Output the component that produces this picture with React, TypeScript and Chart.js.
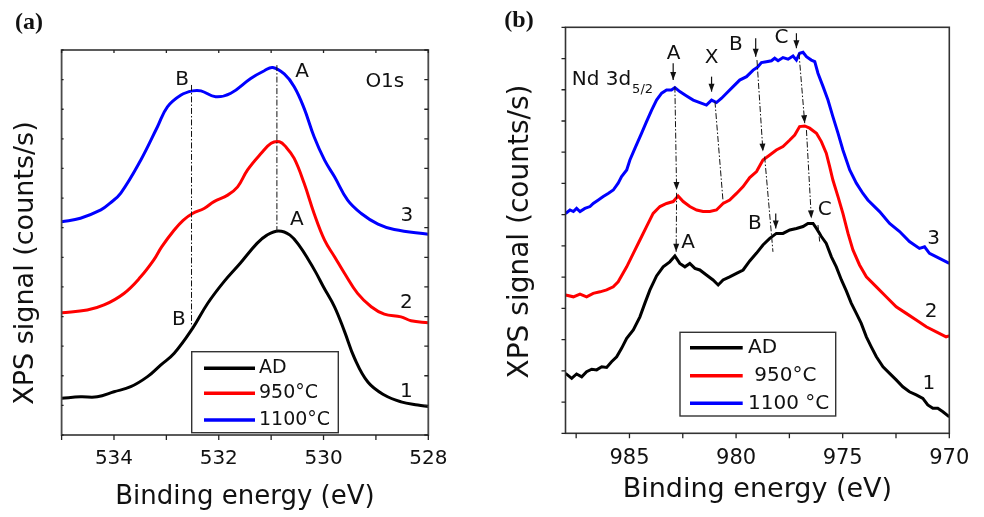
import React, { useEffect, useRef } from "react";
import { Chart, registerables } from "chart.js";
Chart.register(...registerables);

const FONT = "'DejaVu Sans', 'Liberation Sans', sans-serif";
const SERIF = "'Liberation Serif', 'DejaVu Serif', serif";

// ---------- Panel (a): O1s ----------
const aSeriesLabels = ["AD", "950°C", "1100°C"];
const aXTickLabels = [534, 532, 530, 528];

const aAD_E = [535, 534.64, 534.32, 534.0, 533.68, 533.36, 533.11, 532.85, 532.5, 532.21, 531.9, 531.59, 531.27, 531.08, 530.86, 530.64, 530.45, 530.3, 530.15, 530.0, 529.79, 529.6, 529.41, 529.15, 528.84, 528.52, 528.2, 528.0];
const aAD_I = [1.24, 1.29, 1.29, 1.46, 1.63, 1.97, 2.36, 2.76, 3.6, 4.45, 5.18, 5.8, 6.47, 6.75, 6.89, 6.75, 6.36, 5.95, 5.5, 5.0, 4.33, 3.5, 2.6, 1.78, 1.35, 1.12, 1.01, 0.96];

const a950_E = [535, 534.51, 534.19, 533.81, 533.49, 533.24, 533.09, 532.85, 532.68, 532.5, 532.28, 532.09, 531.83, 531.64, 531.45, 531.19, 531.0, 530.84, 530.72, 530.56, 530.37, 530.18, 529.98, 529.79, 529.6, 529.35, 529.09, 528.84, 528.52, 528.33, 528.0];
const a950_I = [4.13, 4.22, 4.39, 4.78, 5.34, 5.91, 6.35, 6.92, 7.25, 7.48, 7.65, 7.88, 8.1, 8.38, 8.95, 9.51, 9.85, 9.9, 9.73, 9.34, 8.5, 7.48, 6.58, 6.02, 5.46, 4.78, 4.33, 4.08, 3.99, 3.86, 3.79];

const a1100_E = [535, 534.64, 534.25, 534.08, 533.87, 533.49, 533.17, 532.98, 532.72, 532.5, 532.34, 532.06, 531.77, 531.39, 531.13, 530.97, 530.75, 530.56, 530.37, 530.18, 529.98, 529.79, 529.54, 529.28, 528.96, 528.65, 528.0];
const a1100_I = [7.2, 7.32, 7.6, 7.82, 8.17, 9.28, 10.41, 11.08, 11.48, 11.62, 11.62, 11.42, 11.54, 12.04, 12.3, 12.41, 12.19, 11.76, 11.03, 10.07, 9.28, 8.72, 7.93, 7.48, 7.12, 6.94, 6.78];

// ---------- Panel (b): Nd 3d5/2 ----------
const bSeriesLabels = ["AD", " 950°C", "1100 °C"];
const bXTickLabels = [985, 980, 975, 970];

const bAD_E = [988.0, 987.71, 987.48, 987.24, 987.01, 986.77, 986.54, 986.3, 986.07, 985.84, 985.6, 985.37, 985.13, 984.82, 984.51, 984.28, 984.04, 983.73, 983.42, 983.11, 982.87, 982.64, 982.4, 982.17, 981.93, 981.7, 981.39, 981.08, 980.84, 980.61, 980.3, 979.98, 979.67, 979.36, 979.04, 978.74, 978.42, 978.11, 977.8, 977.48, 977.17, 976.86, 976.63, 976.39, 976.23, 976.0, 975.77, 975.53, 975.3, 975.06, 974.83, 974.6, 974.36, 974.13, 973.89, 973.66, 973.42, 973.11, 972.8, 972.49, 972.18, 971.87, 971.55, 971.24, 971.01, 970.77, 970.54, 970.3, 970.0];
const bAD_I = [1.92, 1.76, 1.9, 1.81, 1.97, 2.05, 2.03, 2.13, 2.11, 2.29, 2.45, 2.72, 3.04, 3.31, 3.73, 4.16, 4.59, 5.04, 5.33, 5.49, 5.68, 5.44, 5.33, 5.44, 5.28, 5.23, 5.07, 4.91, 4.75, 4.91, 5.01, 5.12, 5.23, 5.52, 5.77, 6.03, 6.24, 6.4, 6.4, 6.51, 6.56, 6.62, 6.72, 6.72, 6.56, 6.3, 6.08, 5.65, 5.33, 4.91, 4.56, 4.17, 3.84, 3.52, 3.09, 2.77, 2.45, 2.13, 1.92, 1.71, 1.49, 1.33, 1.23, 1.12, 0.91, 0.8, 0.8, 0.69, 0.53];

const b950_E = [988.0, 987.63, 987.32, 987.01, 986.7, 986.38, 986.07, 985.76, 985.53, 985.13, 984.82, 984.51, 984.2, 983.89, 983.57, 983.26, 982.95, 982.72, 982.48, 982.17, 981.85, 981.55, 981.23, 980.92, 980.61, 980.3, 979.98, 979.67, 979.36, 979.04, 978.74, 978.42, 978.11, 977.8, 977.48, 977.25, 977.02, 976.78, 976.55, 976.23, 976.0, 975.77, 975.61, 975.46, 975.22, 974.99, 974.75, 974.52, 974.21, 973.89, 973.42, 972.96, 972.49, 972.02, 971.55, 971.08, 970.61, 970.15, 970.0];
const b950_I = [4.43, 4.37, 4.46, 4.37, 4.48, 4.53, 4.59, 4.69, 4.85, 5.33, 5.76, 6.19, 6.62, 7.04, 7.26, 7.36, 7.42, 7.6, 7.42, 7.26, 7.15, 7.1, 7.1, 7.15, 7.36, 7.47, 7.68, 7.9, 8.19, 8.38, 8.75, 8.91, 9.07, 9.18, 9.39, 9.55, 9.82, 9.84, 9.77, 9.61, 9.34, 8.97, 8.54, 8.11, 7.58, 7.04, 6.4, 5.87, 5.39, 5.01, 4.69, 4.37, 4.05, 3.84, 3.63, 3.41, 3.25, 3.09, 3.12];

const b1100_E = [988.0, 987.79, 987.63, 987.48, 987.32, 987.09, 986.85, 986.7, 986.46, 986.23, 986.0, 985.76, 985.53, 985.37, 985.13, 984.98, 984.74, 984.43, 984.2, 983.96, 983.73, 983.49, 983.26, 983.03, 982.87, 982.64, 982.32, 982.01, 981.7, 981.39, 981.15, 980.92, 980.68, 980.45, 980.14, 979.83, 979.51, 979.2, 979.0, 978.81, 978.58, 978.34, 978.19, 978.03, 977.8, 977.56, 977.33, 977.17, 977.02, 976.86, 976.7, 976.47, 976.31, 976.16, 975.92, 975.69, 975.46, 975.22, 974.99, 974.67, 974.36, 974.05, 973.82, 973.27, 972.8, 972.33, 971.87, 971.4, 971.16, 970.93, 970.46, 970.0];
const b1100_I = [7.04, 7.15, 7.1, 7.2, 7.1, 7.2, 7.26, 7.36, 7.47, 7.58, 7.68, 7.79, 8.01, 8.22, 8.43, 8.75, 9.13, 9.61, 9.98, 10.35, 10.67, 10.89, 10.99, 10.99, 11.07, 10.94, 10.8, 10.67, 10.59, 10.51, 10.67, 10.59, 10.73, 10.89, 11.1, 11.31, 11.42, 11.63, 11.72, 11.87, 11.9, 11.93, 12.01, 11.93, 12.03, 11.98, 12.08, 11.95, 12.17, 12.2, 12.06, 11.95, 11.9, 11.53, 11.1, 10.67, 10.14, 9.61, 9.07, 8.43, 8.01, 7.68, 7.47, 7.1, 6.72, 6.46, 6.14, 5.92, 5.97, 5.76, 5.6, 5.44];

const COLORS = ["#000000", "#ff0000", "#0000ff"];

const pts = (E: number[], I: number[]) => E.map((e, i) => ({ x: e, y: I[i] }));

type Ann =
  | { t: "text"; x: number; y: number; s: string; size?: number; align?: CanvasTextAlign }
  | { t: "sub"; x: number; y: number; s: string; sub: string }
  | { t: "line"; x1: number; y1: number; x2: number; y2: number; head?: boolean; dash?: boolean };

interface Spec {
  xMin: number; xMax: number; xStep: number; yMax: number;
  labels: number[];
  tick: { left: number; right: number; top: number; bottom: number };
  frameColor: string; frameWidth: number;
  tickFont: number; tickLabelY: number;
  xTitle: string; xTitleSize: number; xTitleY: number;
  yTitle: string; yTitleSize: number; yTitleX: number; yTitleY: number;
  panel: string; panelX: number; panelY: number;
  legend: { x: number; y: number; w: number; h: number; l1: number; l2: number; rows: number[]; tx: number; size: number };
  anns: Ann[];
}

const specA: Spec = {
  xMin: 528, xMax: 535, xStep: 1, yMax: 13,
  labels: aXTickLabels,
  tick: { left: 2, right: 4, top: 3, bottom: -5 },
  frameColor: "#4a4a4a", frameWidth: 1.8,
  tickFont: 20, tickLabelY: 459,
  xTitle: "Binding energy (eV)", xTitleSize: 26, xTitleY: 497,
  yTitle: "XPS signal (counts/s)", yTitleSize: 27, yTitleX: 26, yTitleY: 263,
  panel: "(a)", panelX: 29, panelY: 23,
  legend: { x: 191.7, y: 351.7, w: 146.6, h: 81, l1: 204, l2: 255, rows: [368.3, 393.3, 420], tx: 259, size: 19 },
  anns: [
    { t: "line", x1: 532.52, y1: 11.82, x2: 532.52, y2: 3.66, dash: true },
    { t: "line", x1: 530.89, y1: 12.49, x2: 530.89, y2: 6.86, dash: true },
    { t: "text", x: 532.7, y: 11.99, s: "B" },
    { t: "text", x: 530.41, y: 12.26, s: "A" },
    { t: "text", x: 528.83, y: 11.92, s: "O1s" },
    { t: "text", x: 530.51, y: 7.26, s: "A" },
    { t: "text", x: 532.76, y: 3.88, s: "B" },
    { t: "text", x: 528.41, y: 7.39, s: "3" },
    { t: "text", x: 528.42, y: 4.46, s: "2" },
    { t: "text", x: 528.42, y: 1.45, s: "1" },
  ],
};

const specB: Spec = {
  xMin: 970, xMax: 988, xStep: 2.5, yMax: 13,
  labels: bXTickLabels,
  tick: { left: -4, right: 0, top: 0, bottom: -5 },
  frameColor: "#333333", frameWidth: 1.6,
  tickFont: 21, tickLabelY: 459,
  xTitle: "Binding energy (eV)", xTitleSize: 27, xTitleY: 490,
  yTitle: "XPS signal (counts/s)", yTitleSize: 28, yTitleX: 29, yTitleY: 231.5,
  panel: "(b)", panelX: 27, panelY: 21,
  legend: { x: 188, y: 332.3, w: 155.7, h: 83.7, l1: 198, l2: 250.7, rows: [347.7, 375.7, 403.3], tx: 256, size: 20 },
  anns: [
    { t: "sub", x: 987.71, y: 11.15, s: "Nd 3d", sub: "5/2" },
    { t: "text", x: 982.93, y: 12.15, s: "A" },
    { t: "text", x: 981.15, y: 12.01, s: "X" },
    { t: "text", x: 980.01, y: 12.43, s: "B" },
    { t: "text", x: 977.87, y: 12.65, s: "C" },
    { t: "text", x: 982.25, y: 6.1, s: "A" },
    { t: "text", x: 979.12, y: 6.7, s: "B" },
    { t: "text", x: 975.84, y: 7.15, s: "C" },
    { t: "text", x: 970.73, y: 6.24, s: "3" },
    { t: "text", x: 970.85, y: 3.89, s: "2" },
    { t: "text", x: 970.96, y: 1.58, s: "1" },
    { t: "line", x1: 982.95, y1: 11.85, x2: 982.95, y2: 11.31, head: true },
    { t: "line", x1: 982.87, y1: 11.1, x2: 982.79, y2: 7.79, head: true, dash: true },
    { t: "line", x1: 982.79, y1: 7.7, x2: 982.81, y2: 5.81, head: true, dash: true },
    { t: "line", x1: 981.15, y1: 11.42, x2: 981.15, y2: 10.94, head: true },
    { t: "line", x1: 980.99, y1: 10.62, x2: 980.61, y2: 7.42, dash: true },
    { t: "line", x1: 979.08, y1: 12.65, x2: 979.08, y2: 12.06, head: true },
    { t: "line", x1: 979.02, y1: 11.95, x2: 978.74, y2: 9.02, head: true, dash: true },
    { t: "line", x1: 978.66, y1: 8.86, x2: 978.27, y2: 5.81, dash: true },
    { t: "line", x1: 978.14, y1: 7.04, x2: 978.14, y2: 6.56, head: true },
    { t: "line", x1: 977.17, y1: 12.81, x2: 977.17, y2: 12.33, head: true },
    { t: "line", x1: 977.05, y1: 12.17, x2: 976.78, y2: 9.93, head: true, dash: true },
    { t: "line", x1: 976.7, y1: 9.71, x2: 976.47, y2: 6.88, head: true, dash: true },
    { t: "line", x1: 976.16, y1: 6.67, x2: 976.08, y2: 6.14, dash: true },
  ],
};

function decor(spec: Spec) {
  return {
    id: "decor",
    afterDraw(chart: any) {
      const { ctx, chartArea: ca, scales } = chart;
      const X = (v: number) => scales.x.getPixelForValue(v);
      const Y = (v: number) => scales.y.getPixelForValue(v);
      ctx.save();
      // frame
      ctx.strokeStyle = spec.frameColor;
      ctx.lineWidth = spec.frameWidth;
      ctx.strokeRect(ca.left, ca.top, ca.right - ca.left, ca.bottom - ca.top);
      // ticks
      ctx.strokeStyle = "#222";
      ctx.lineWidth = 1.3;
      ctx.beginPath();
      for (let v = 0; v <= spec.yMax + 1e-6; v += 1) {
        const py = Y(v);
        if (spec.tick.left) { ctx.moveTo(ca.left, py); ctx.lineTo(ca.left + spec.tick.left, py); }
        if (spec.tick.right) { ctx.moveTo(ca.right, py); ctx.lineTo(ca.right - spec.tick.right, py); }
      }
      for (let v = spec.xMin; v <= spec.xMax + 1e-6; v += spec.xStep) {
        const px = X(v);
        if (spec.tick.bottom) { ctx.moveTo(px, ca.bottom); ctx.lineTo(px, ca.bottom - spec.tick.bottom); }
        if (spec.tick.top) { ctx.moveTo(px, ca.top); ctx.lineTo(px, ca.top + spec.tick.top); }
      }
      ctx.stroke();
      // tick labels
      ctx.fillStyle = "#111";
      ctx.font = `${spec.tickFont}px ${FONT}`;
      ctx.textAlign = "center";
      ctx.textBaseline = "middle";
      spec.labels.forEach((v) => ctx.fillText(String(v), X(v), spec.tickLabelY));
      // axis titles
      ctx.font = `${spec.xTitleSize}px ${FONT}`;
      ctx.fillText(spec.xTitle, (ca.left + ca.right) / 2, spec.xTitleY);
      ctx.save();
      ctx.translate(spec.yTitleX, spec.yTitleY);
      ctx.rotate(-Math.PI / 2);
      ctx.font = `${spec.yTitleSize}px ${FONT}`;
      ctx.fillText(spec.yTitle, 0, 0);
      ctx.restore();
      // panel label
      ctx.font = `bold 24px ${SERIF}`;
      ctx.fillText(spec.panel, spec.panelX, spec.panelY);
      // annotations
      spec.anns.forEach((a) => {
        if (a.t === "text") {
          ctx.font = `${a.size || 20}px ${FONT}`;
          ctx.textAlign = a.align || "center";
          ctx.textBaseline = "middle";
          ctx.fillText(a.s, X(a.x), Y(a.y));
        } else if (a.t === "sub") {
          ctx.font = `20px ${FONT}`;
          ctx.textAlign = "left";
          ctx.textBaseline = "alphabetic";
          const x0 = X(a.x), y0 = Y(a.y);
          ctx.fillText(a.s, x0, y0);
          const w = ctx.measureText(a.s).width;
          ctx.font = `13px ${FONT}`;
          ctx.fillText(a.sub, x0 + w + 1, y0 + 8);
        } else {
          const x1 = X(a.x1), y1 = Y(a.y1), x2 = X(a.x2), y2 = Y(a.y2);
          ctx.strokeStyle = "#111";
          ctx.lineWidth = a.dash ? 1 : 1.2;
          ctx.setLineDash(a.dash ? [6, 2, 1.5, 2] : []);
          ctx.beginPath();
          ctx.moveTo(x1, y1);
          ctx.lineTo(x2, y2);
          ctx.stroke();
          ctx.setLineDash([]);
          if (a.head) {
            const ang = Math.atan2(y2 - y1, x2 - x1);
            const L = 8, H = 3;
            ctx.fillStyle = "#111";
            ctx.beginPath();
            ctx.moveTo(x2, y2);
            ctx.lineTo(x2 - L * Math.cos(ang) + H * Math.sin(ang), y2 - L * Math.sin(ang) - H * Math.cos(ang));
            ctx.lineTo(x2 - L * Math.cos(ang) - H * Math.sin(ang), y2 - L * Math.sin(ang) + H * Math.cos(ang));
            ctx.closePath();
            ctx.fill();
          }
        }
      });
      // legend
      const lg = spec.legend;
      ctx.fillStyle = "#fff";
      ctx.fillRect(lg.x, lg.y, lg.w, lg.h);
      ctx.strokeStyle = "#333";
      ctx.lineWidth = 1.4;
      ctx.strokeRect(lg.x, lg.y, lg.w, lg.h);
      chart.data.datasets.forEach((ds: any, i: number) => {
        const ry = lg.rows[i];
        ctx.strokeStyle = ds.borderColor;
        ctx.lineWidth = 3.5;
        ctx.beginPath();
        ctx.moveTo(lg.l1, ry);
        ctx.lineTo(lg.l2, ry);
        ctx.stroke();
        ctx.fillStyle = "#111";
        ctx.font = `${lg.size}px ${FONT}`;
        ctx.textAlign = "left";
        ctx.textBaseline = "middle";
        ctx.fillText(ds.label, lg.tx, ry);
      });
      ctx.restore();
    },
  };
}

function makeChart(canvas: HTMLCanvasElement, spec: Spec, series: { label: string; data: any[]; color: string }[], padding: any, tension: number) {
  return new Chart(canvas, {
    type: "line",
    data: {
      datasets: series.map((s) => ({
        label: s.label,
        data: s.data,
        borderColor: s.color,
        backgroundColor: s.color,
        borderWidth: 3,
        pointRadius: 0,
        tension,
        fill: false,
      })),
    },
    options: {
      responsive: false,
      animation: false,
      devicePixelRatio: 1,
      layout: { padding },
      scales: {
        x: { type: "linear", min: spec.xMin, max: spec.xMax, reverse: true, display: false },
        y: { type: "linear", min: 0, max: spec.yMax, display: false },
      },
      plugins: { legend: { display: false }, tooltip: { enabled: false } },
    },
    plugins: [decor(spec)],
  } as any);
}

export default function App() {
  const refA = useRef<HTMLCanvasElement>(null);
  const refB = useRef<HTMLCanvasElement>(null);
  useEffect(() => {
    const ca = makeChart(
      refA.current!,
      specA,
      [
        { label: aSeriesLabels[0], data: pts(aAD_E, aAD_I), color: COLORS[0] },
        { label: aSeriesLabels[1], data: pts(a950_E, a950_I), color: COLORS[1] },
        { label: aSeriesLabels[2], data: pts(a1100_E, a1100_I), color: COLORS[2] },
      ],
      { left: 61.6, top: 50, right: 63.7, bottom: 82 },
      0.4
    );
    const cb = makeChart(
      refB.current!,
      specB,
      [
        { label: bSeriesLabels[0], data: pts(bAD_E, bAD_I), color: COLORS[0] },
        { label: bSeriesLabels[1], data: pts(b950_E, b950_I), color: COLORS[1] },
        { label: bSeriesLabels[2], data: pts(b1100_E, b1100_I), color: COLORS[2] },
      ],
      { left: 73.5, top: 27.3, right: 34.7, bottom: 83.7 },
      0
    );
    return () => {
      ca.destroy();
      cb.destroy();
    };
  }, []);
  return (
    <div style={{ position: "fixed", left: 0, top: 0, width: 984, height: 517, background: "#fff", overflow: "hidden" }}>
      <canvas ref={refA} width={492} height={517} style={{ position: "absolute", left: 0, top: 0, width: 492, height: 517 }} />
      <canvas ref={refB} width={492} height={517} style={{ position: "absolute", left: 492, top: 0, width: 492, height: 517 }} />
    </div>
  );
}
